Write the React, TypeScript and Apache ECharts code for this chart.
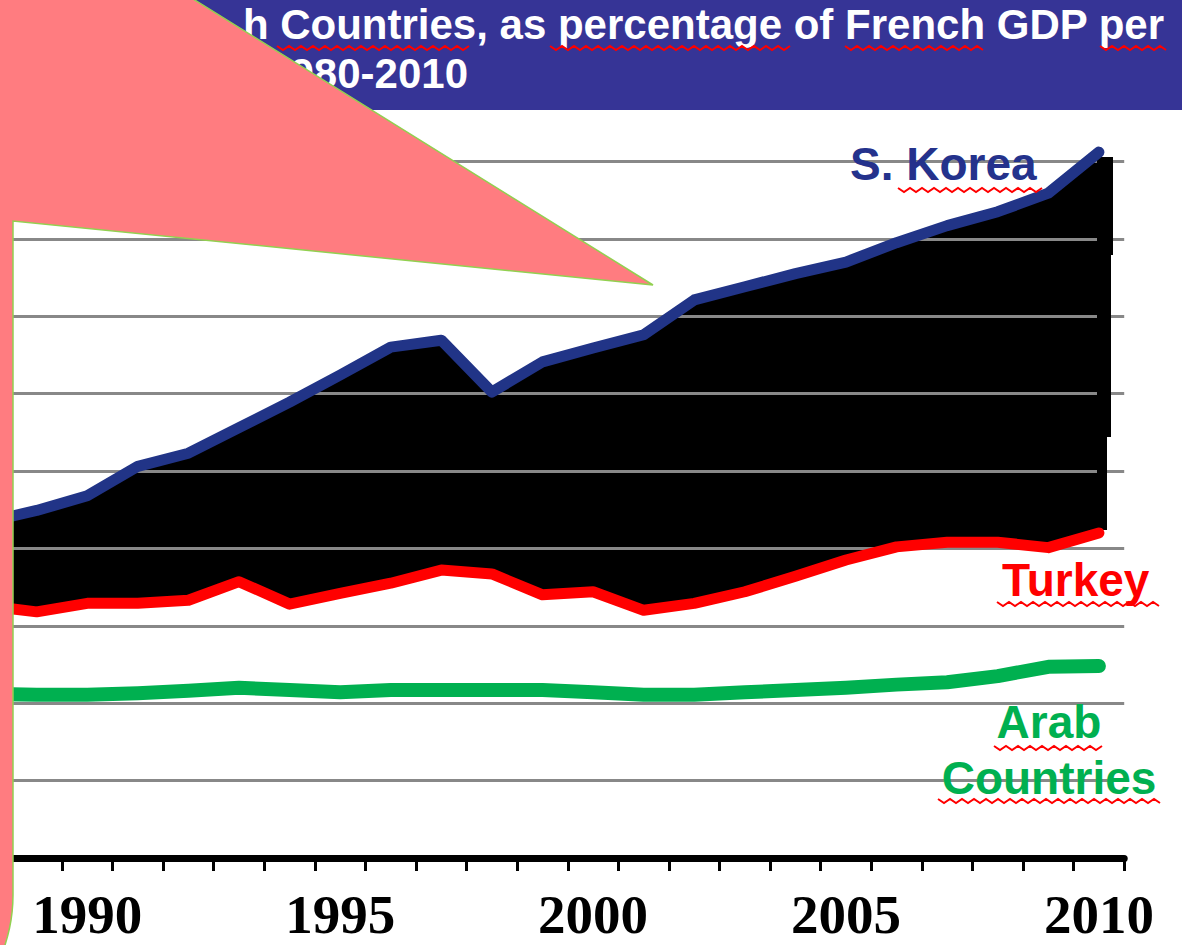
import React, { useEffect, useRef } from "react";
import * as echarts from "echarts";

// Years shown on the category axis (the visible part of the 1980-2010 chart)
const years = [
  "1988", "1989", "1990", "1991", "1992", "1993", "1994", "1995", "1996", "1997", "1998", "1999",
  "2000", "2001", "2002", "2003", "2004", "2005", "2006", "2007", "2008", "2009", "2010",
];
// GDP per capita as % of French GDP per capita
const korea = [
  43.4, 44.9, 46.8, 50.6, 52.3, 55.6, 58.9, 62.4, 66.0, 66.9, 60.2, 64.1,
  65.9, 67.6, 72.1, 73.8, 75.5, 77.0, 79.5, 81.7, 83.5, 85.9, 91.2,
];
const turkey = [
  32.6, 31.8, 32.9, 32.9, 33.3, 35.7, 32.8, 34.2, 35.5, 37.2, 36.7, 34.0,
  34.4, 32.0, 32.9, 34.4, 36.4, 38.5, 40.2, 40.8, 40.8, 40.1, 42.0,
];
const arab = [
  21.2, 21.1, 21.1, 21.3, 21.6, 22.0, 21.7, 21.4, 21.7, 21.7, 21.7, 21.7,
  21.4, 21.1, 21.1, 21.4, 21.7, 22.0, 22.4, 22.7, 23.5, 24.7, 24.8,
];
const labelYears = ["1990", "1995", "2000", "2005", "2010"];

const titleLine1 = "h Countries, as percentage of French GDP per";
const titleLine2 = "1980-2010";

// the chart canvas is wider than the page and shifted left, so that the
// earlier part of the axis sits off-page as in the cropped reference
const OFF = 100;

function squiggle(x0: number, x1: number, y: number) {
  const pts: number[][] = [];
  let i = 0;
  for (let x = x0; x <= x1; x += 6, i++) pts.push([x, y + (i % 2 ? 2 : -2)]);
  return {
    type: "polyline",
    shape: { points: pts },
    style: { stroke: "#ff0000", lineWidth: 2, fill: null },
    z: 12,
  };
}

function calloutPoints() {
  const pts: number[][] = [
    [-60, -220],
    [13, -220],
    [13, -113],
    [653, 285],
    [13, 221],
    [13, 895],
  ];
  const r = 160;
  const cx = 13 - r;
  const cy = 895;
  for (let a = 0; a <= 90; a += 3) {
    const t = (a * Math.PI) / 180;
    pts.push([cx + r * Math.cos(t), cy + r * Math.sin(t)]);
  }
  pts.push([-60, cy + r]);
  return pts;
}

export default function App() {
  const ref = useRef<HTMLDivElement>(null);
  useEffect(() => {
    if (!ref.current) return;
    const chart = echarts.init(ref.current, null, { renderer: "svg" });
    const band = korea.map((v, i) => +(v - turkey[i]).toFixed(2));
    const labelFont = {
      fontFamily: "'Liberation Sans', Arial, sans-serif",
      fontWeight: "bold",
      fontSize: 46,
    };
    chart.setOption({
      animation: false,
      backgroundColor: "#ffffff",
      grid: { left: OFF - 39.2, right: 57.8, top: 84, bottom: 87, containLabel: false },
      xAxis: {
        type: "category",
        data: years,
        boundaryGap: true,
        z: 4,
        axisLine: { show: true, lineStyle: { color: "#000000", width: 7 } },
        axisTick: { show: true, interval: 0, length: 13, lineStyle: { color: "#000000", width: 3 } },
        axisLabel: {
          interval: (_i: number, v: string) => labelYears.includes(v),
          fontFamily: "'Liberation Serif', 'Times New Roman', serif",
          fontWeight: "bold",
          fontSize: 55,
          lineHeight: 40,
          color: "#000000",
          margin: 36,
        },
        splitLine: { show: false },
      },
      yAxis: {
        type: "value",
        min: 0,
        max: 100,
        interval: 10,
        z: 2,
        axisLine: { show: false },
        axisTick: { show: false },
        axisLabel: { show: false },
        splitLine: { show: true, lineStyle: { color: "#888888", width: 3 } },
      },
      series: [
        {
          name: "base",
          type: "line",
          stack: "band",
          data: turkey,
          symbol: "none",
          silent: true,
          lineStyle: { width: 0, opacity: 0 },
          z: 1,
        },
        {
          name: "band",
          type: "line",
          stack: "band",
          data: band,
          symbol: "none",
          silent: true,
          lineStyle: { width: 0, opacity: 0 },
          areaStyle: { color: "#000000", opacity: 1 },
          z: 1,
        },
        {
          name: "Arab Countries",
          type: "line",
          data: arab,
          symbol: "none",
          lineStyle: { color: "#00b050", width: 14, cap: "round", join: "round" },
          z: 3,
        },
        {
          name: "Turkey",
          type: "line",
          data: turkey,
          symbol: "none",
          lineStyle: { color: "#ff0000", width: 11, cap: "round", join: "round" },
          z: 3,
        },
        {
          name: "S. Korea",
          type: "line",
          data: korea,
          symbol: "none",
          lineStyle: { color: "#213487", width: 11, cap: "round", join: "round" },
          z: 3,
        },
      ],
      graphic: [
        {
          type: "polygon",
          x: OFF,
          shape: {
            points: [
              [1097, 157], [1113, 157], [1113, 255], [1111, 255], [1111, 437],
              [1107, 437], [1107, 530], [1097, 530],
            ],
          },
          style: { fill: "#000000" },
          z: 2.5,
        },
        {
          type: "group",
          x: OFF,
          children: [
            {
              type: "rect",
              shape: { x: 0, y: 0, width: 1182, height: 110 },
              style: { fill: "#363496" },
              z: 10,
            },
            {
              type: "text",
              x: 1164,
              y: 24.5,
              style: {
                text: titleLine1,
                fill: "#ffffff",
                fontFamily: "'Liberation Sans', Arial, sans-serif",
                fontWeight: "bold",
                fontSize: 42,
                align: "right",
                verticalAlign: "middle",
              },
              z: 11,
            },
            {
              type: "text",
              x: 468,
              y: 73.5,
              style: {
                text: titleLine2,
                fill: "#ffffff",
                fontFamily: "'Liberation Sans', Arial, sans-serif",
                fontWeight: "bold",
                fontSize: 42,
                align: "right",
                verticalAlign: "middle",
              },
              z: 11,
            },
            squiggle(277, 473, 48),
            squiggle(550, 792, 48),
            squiggle(845, 988, 48),
            squiggle(1100, 1170, 48),
            {
              type: "text",
              x: 850,
              y: 164,
              style: { text: "S. Korea", fill: "#24328c", ...labelFont, align: "left", verticalAlign: "middle" },
              z: 11,
            },
            squiggle(898, 1042, 190),
            {
              type: "text",
              x: 1002,
              y: 580,
              style: { text: "Turkey", fill: "#ff0000", ...labelFont, align: "left", verticalAlign: "middle" },
              z: 11,
            },
            squiggle(997, 1163, 604),
            {
              type: "text",
              x: 1049,
              y: 722,
              style: { text: "Arab", fill: "#00b050", ...labelFont, align: "center", verticalAlign: "middle" },
              z: 11,
            },
            squiggle(994, 1102, 748),
            {
              type: "text",
              x: 1049,
              y: 778,
              style: { text: "Countries", fill: "#00b050", ...labelFont, align: "center", verticalAlign: "middle" },
              z: 11,
            },
            squiggle(938, 1164, 801),
            {
              type: "polygon",
              shape: { points: calloutPoints() },
              style: { fill: "#ff7c80", stroke: "#92d050", lineWidth: 1.5 },
              z: 20,
            },
          ],
        },
      ],
    });
    return () => chart.dispose();
  }, []);
  return (
    <div
      style={{ position: "fixed", left: 0, top: 0, width: 1182, height: 945, overflow: "hidden", background: "#fff" }}
    >
      <div ref={ref} style={{ position: "absolute", left: -OFF, top: 0, width: 1182 + OFF, height: 945 }} />
    </div>
  );
}
